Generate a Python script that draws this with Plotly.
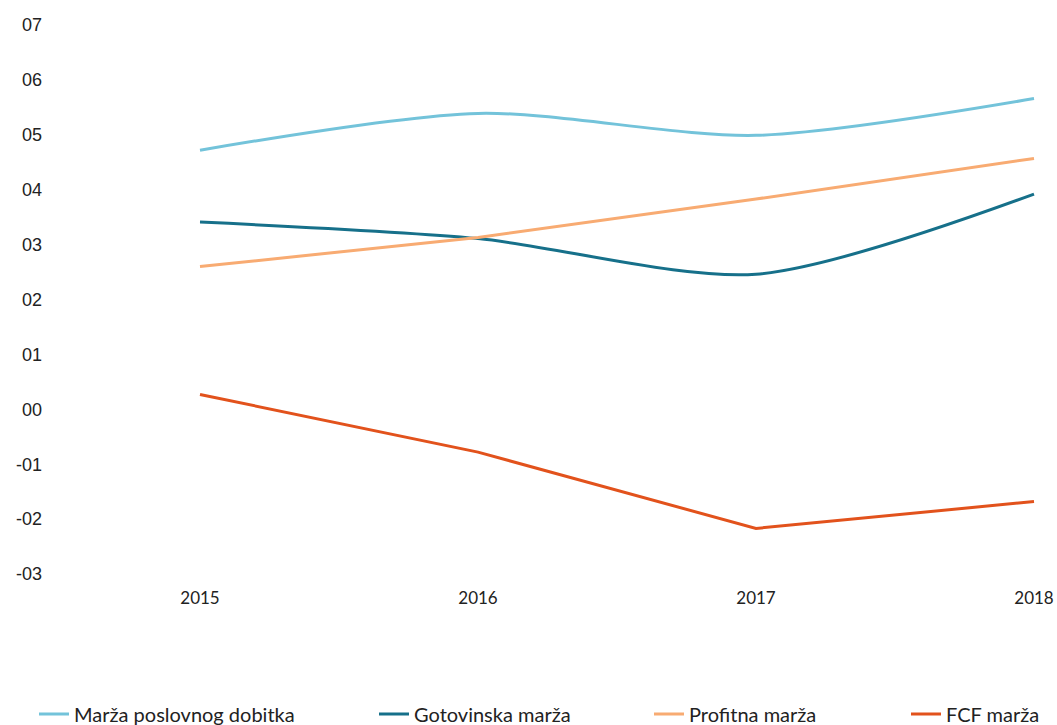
import plotly.graph_objects as go

years = [2015, 2016, 2017, 2018]
year_labels = ["2015", "2016", "2017", "2018"]
marza_poslovnog = [0.472, 0.539, 0.499, 0.566]
gotovinska = [0.341, 0.311, 0.246, 0.392]
profitna = [0.260, 0.313, 0.383, 0.457]
fcf = [0.027, -0.078, -0.217, -0.168]

y_ticks = [0.7, 0.6, 0.5, 0.4, 0.3, 0.2, 0.1, 0.0, -0.1, -0.2, -0.3]
y_labels = ["07", "06", "05", "04", "03", "02", "01", "00", "-01", "-02", "-03"]

W, H = 1057, 725

series = [
    ("Marža poslovnog dobitka", marza_poslovnog, "#73c3da", "spline", "legend", 34),
    ("Gotovinska marža", gotovinska, "#16708a", "spline", "legend2", 374),
    ("Profitna marža", profitna, "#f8ab72", "linear", "legend3", 649),
    ("FCF marža", fcf, "#e2521c", "linear", "legend4", 906),
]

fig = go.Figure()
layout_legends = {}
for name, vals, color, shape, lg, px in series:
    fig.add_trace(go.Scatter(
        x=years, y=vals, name=name, mode="lines", showlegend=True,
        line=dict(color=color, width=3, shape=shape, smoothing=0.8),
        legend=lg,
    ))
    layout_legends[lg] = dict(
        xref="container", yref="container",
        x=px / W, y=11 / H, xanchor="left", yanchor="middle",
        orientation="h", bgcolor="rgba(0,0,0,0)",
        font=dict(family="Lato, Raleway, sans-serif", size=20, color="#222"),
        itemwidth=30,
    )

fig.update_layout(
    width=W, height=H,
    showlegend=True,
    margin=dict(l=43, r=10, t=11, b=139),
    paper_bgcolor="white", plot_bgcolor="white",
    xaxis=dict(
        range=[2015 - 157 / 278, 2018 + 13 / 278],
        tickvals=years, ticktext=year_labels,
        showgrid=False, zeroline=False, showline=False, automargin=False,
        tickfont=dict(family="Lato, sans-serif", size=17, color="#222"),
    ),
    yaxis=dict(
        range=[-0.3 - 12 / 549, 0.7 + 14 / 549],
        tickvals=y_ticks, ticktext=y_labels,
        showgrid=False, zeroline=False, showline=False, automargin=False,
        tickfont=dict(family="Liberation Sans, Arial, sans-serif", size=18, color="#222"),
    ),
    **layout_legends,
)

fig.write_html(
    "out.html",
    config={"displayModeBar": False},
    post_script="document.body.style.margin='0';document.body.style.overflow='hidden';",
)
